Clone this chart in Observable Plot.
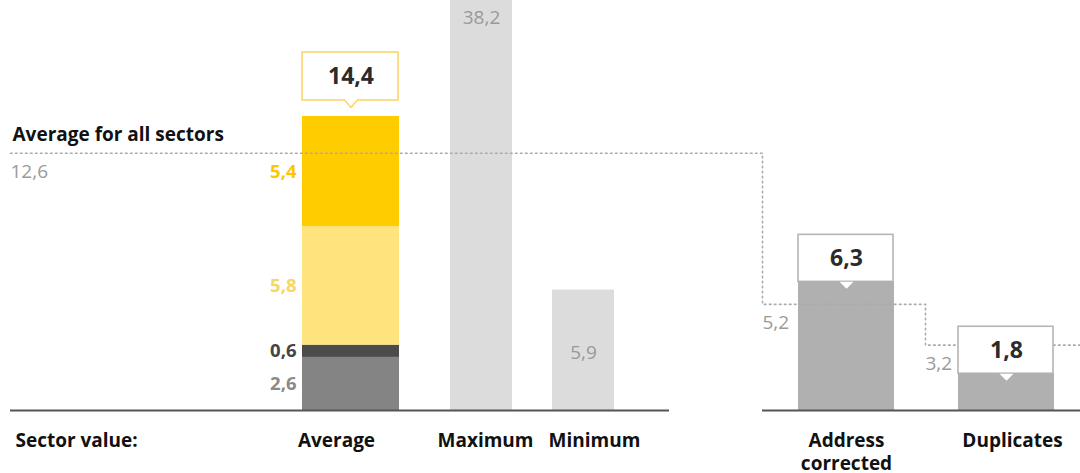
<!DOCTYPE html>
<html><head><meta charset="utf-8">
<script src="https://cdn.jsdelivr.net/npm/d3@7"></script>
<script src="https://cdn.jsdelivr.net/npm/@observablehq/plot@0.6"></script>
<style>
html,body{margin:0;padding:0;background:#fff;overflow:hidden}
#chart svg{display:block}
</style>
</head><body><div id="chart"></div>
<script>
// ---- data ----
const sectorCategories = ["Average", "Maximum", "Minimum"];
const sectorValues = [14.4, 38.2, 5.9];
const averagePartNames = ["Part 1", "Part 2", "Part 3", "Part 4"]; // bottom -> top
const averagePartValues = [2.6, 0.6, 5.8, 5.4];
const metricCategories = ["Address corrected", "Duplicates"];
const metricValues = [6.3, 1.8];
const allSectorsLabel = "Average for all sectors";
const allSectorsAverages = [12.6, 5.2, 3.2];
const groupLabel = "Sector value:";
const fmt = v => d3.format(".1f")(v).replace(".", ",");

// ---- layout / style config ----
const YMAX = 20.08;
const PX = YMAX / 410;          // data units per pixel
const span = {
  "Average": [302, 399], "Maximum": [450, 512], "Minimum": [552, 614],
  "Address corrected": [798, 894], "Duplicates": [958, 1054]
};
const labelX = {"Average": 336, "Maximum": 485, "Minimum": 594, "Address corrected": 846, "Duplicates": 1012};
const stepX = [10, 762, 925, 1080];
const partFill = ["#848484", "#4b4b4b", "#ffe47d", "#ffcc00"];
const partText = ["#8a8a8a", "#444444", "#f9d565", "#ffc600"];
const FONT = "'Open Sans', 'Noto Sans', sans-serif";

// ---- derived tables ----
let acc = 0;
const parts = averagePartValues.map((v, i) => {
  const r = {name: averagePartNames[i], value: v, y1: acc, y2: acc + v,
             x1: span.Average[0], x2: span.Average[1], fill: partFill[i], tcolor: partText[i]};
  acc += v; return r;
});
const plainBars = sectorCategories.slice(1).map((c, i) => ({cat: c, value: sectorValues[i + 1],
  x1: span[c][0], x2: span[c][1]}));
const metricBars = metricCategories.map((c, i) => ({cat: c, value: metricValues[i],
  x1: span[c][0], x2: span[c][1]}));
const steps = allSectorsAverages.map((v, i) => ({x: stepX[i], y: v}));
steps.push({x: stepX[stepX.length - 1], y: allSectorsAverages[allSectorsAverages.length - 1]});

const avgTotal = sectorValues[0];
const avgBox = {x1: span.Average[0], x2: span.Average[1] - 1,
  y1: avgTotal + 16 * PX, y2: avgTotal + 64 * PX};
const metricBoxes = metricBars.map(d => ({x1: d.x1, x2: d.x2 - 1, y1: d.value, y2: d.value + 47 * PX}));

// triangles
const cxAvg = (span.Average[0] + span.Average[1]) / 2;
const avgTriFill = [
  {x: cxAvg - 6, y: avgBox.y1 + 1.5 * PX}, {x: cxAvg - 6, y: avgBox.y1},
  {x: cxAvg, y: avgBox.y1 - 7 * PX}, {x: cxAvg + 6, y: avgBox.y1}, {x: cxAvg + 6, y: avgBox.y1 + 1.5 * PX}
];
const avgTriStroke = [
  {x: cxAvg - 6, y: avgBox.y1}, {x: cxAvg, y: avgBox.y1 - 7 * PX}, {x: cxAvg + 6, y: avgBox.y1}
];
const metricTris = metricBars.flatMap(d => {
  const cx = (d.x1 + d.x2) / 2;
  return [{k: d.cat, x: cx - 7, y: d.value}, {k: d.cat, x: cx, y: d.value - 7 * PX}, {k: d.cat, x: cx + 7, y: d.value}];
});

const catLabels = [...sectorCategories, ...metricCategories].map(c => ({
  text: c === "Address corrected" ? "Address\ncorrected" : c, x: labelX[c]}));
const singleLabels = catLabels.filter(d => !d.text.includes("\n"));
const multiLabels = catLabels.filter(d => d.text.includes("\n"));

const chart = Plot.plot({
  width: 1080, height: 473,
  marginTop: 0, marginRight: 0, marginBottom: 63, marginLeft: 0,
  x: {type: "linear", domain: [0, 1080], axis: null},
  y: {domain: [0, YMAX], axis: null},
  color: {type: "identity"},
  style: {fontFamily: FONT, background: "#fff", overflow: "hidden"},
  marks: [
    // bars
    Plot.rect(plainBars, {x1: "x1", x2: "x2", y1: 0, y2: "value", fill: "#dcdcdc", clip: true}),
    Plot.rect(parts, {x1: "x1", x2: "x2", y1: "y1", y2: "y2", fill: "fill"}),
    Plot.rect(metricBars, {x1: "x1", x2: "x2", y1: 0, y2: "value", fill: "#b0b0b0"}),
    // baselines
    Plot.ruleY([0], {x1: 10, x2: 669, stroke: "#555", strokeWidth: 2}),
    Plot.ruleY([0], {x1: 762, x2: 1080, stroke: "#555", strokeWidth: 2}),
    // average for all sectors (dotted step)
    Plot.line(steps, {x: "x", y: "y", curve: "step-after", stroke: "#aaa", strokeWidth: 1.6,
      strokeDasharray: "1.6 3.4"}),
    // callouts
    Plot.rect([avgBox], {x1: "x1", x2: "x2", y1: "y1", y2: "y2", fill: "#fff", stroke: "#fdd66a", strokeWidth: 1.6}),
    Plot.line(avgTriFill, {x: "x", y: "y", fill: "#fff", stroke: "none"}),
    Plot.line(avgTriStroke, {x: "x", y: "y", stroke: "#fdd66a", strokeWidth: 1.6}),
    Plot.rect(metricBoxes, {x1: "x1", x2: "x2", y1: "y1", y2: "y2", fill: "#fff", stroke: "#b5b5b5", strokeWidth: 1.6}),
    Plot.rect(metricBars, {x1: "x1", x2: "x2", y1: "value", y2: d => d.value - 1.5 * PX, fill: "#b0b0b0"}),
    Plot.line(metricTris, {x: "x", y: "y", z: "k", fill: "#fff", stroke: "none"}),
    // callout values
    Plot.text([avgTotal], {x: cxAvg, y: d => d, dy: -40, text: d => fmt(d), fontSize: 23, fontWeight: 700, fill: "#2b2b2b"}),
    Plot.text(metricBars, {x: d => (d.x1 + d.x2) / 2, y: "value", dy: -23.5, text: d => fmt(d.value),
      fontSize: 23, fontWeight: 700, fill: "#2b2b2b"}),
    // segment labels
    Plot.text(parts, {x: "x1", y: d => (d.y1 + d.y2) / 2, dx: -6, text: d => fmt(d.value), textAnchor: "end",
      fontSize: 18.5, fontWeight: 700, fill: "tcolor"}),
    // max / min labels
    Plot.text(plainBars.filter(d => d.value > YMAX), {x: d => (d.x1 + d.x2) / 2, frameAnchor: "top", lineAnchor: "middle",
      dy: 17, text: d => fmt(d.value), fontSize: 19, fill: "#999"}),
    Plot.text(plainBars.filter(d => d.value <= YMAX), {x: d => (d.x1 + d.x2) / 2, y: d => d.value / 2, dy: 3,
      text: d => fmt(d.value), fontSize: 19, fill: "#999"}),
    // all-sector average labels
    Plot.text(steps.slice(0, allSectorsAverages.length), {x: "x", y: "y", dx: 0, dy: 19, text: d => fmt(d.y),
      textAnchor: "start", fontSize: 19, fill: "#9a9a9a"}),
    Plot.text([allSectorsLabel], {frameAnchor: "top-left", lineAnchor: "middle", dx: 12, dy: 134, textAnchor: "start",
      fontSize: 19, fontWeight: 700, fill: "#111"}),
    // category labels
    Plot.text([groupLabel], {x: 15, y: 0, dy: 30, textAnchor: "start", fontSize: 19, fontWeight: 700, fill: "#111"}),
    Plot.text(singleLabels, {x: "x", y: 0, dy: 30, text: "text", lineAnchor: "middle",
      fontSize: 19, fontWeight: 700, fill: "#111"}),
    Plot.text(multiLabels, {x: "x", y: 0, dy: 40.5, text: "text", lineAnchor: "middle", lineHeight: 1.24,
      fontSize: 19, fontWeight: 700, fill: "#111"})
  ]
});
document.getElementById("chart").appendChild(chart);
</script></body></html>
